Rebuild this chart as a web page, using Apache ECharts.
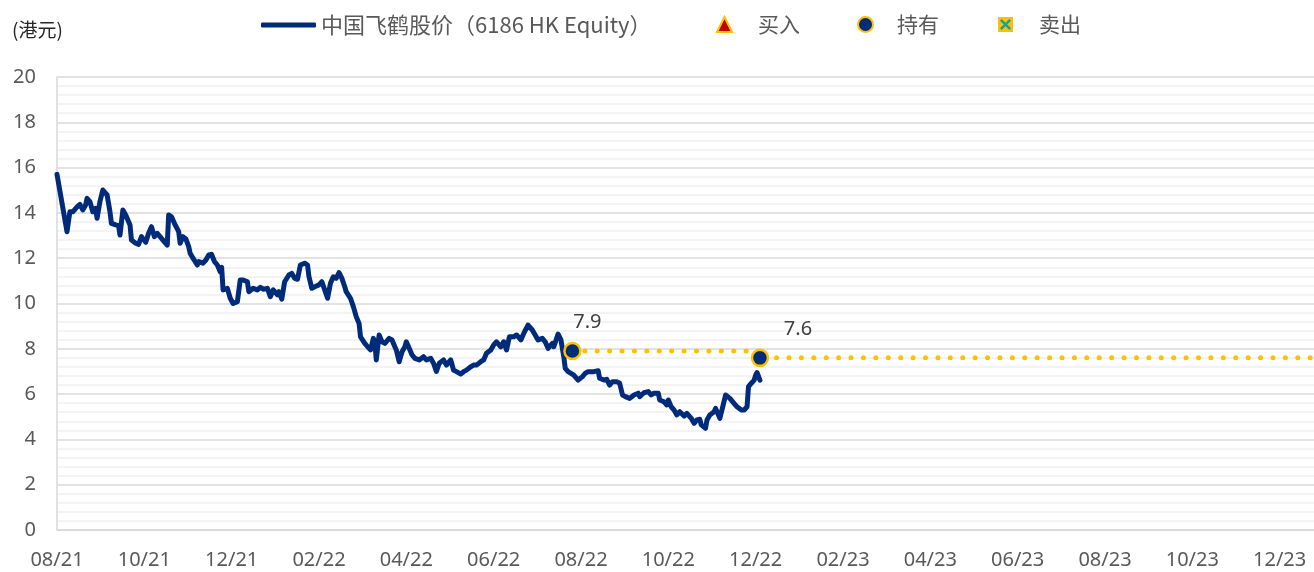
<!DOCTYPE html>
<html>
<head>
<meta charset="utf-8">
<script src="https://cdn.jsdelivr.net/npm/echarts@6/dist/echarts.min.js"></script>
<style>
  html, body { margin: 0; padding: 0; background: #fff; }
  #mainChart { width: 1314px; height: 572px; }
</style>
</head>
<body>
<div id="mainChart"></div>
<script>
// 数据：以 2021-08-01 为起点的天数偏移
var startDate = '2021-08-01';
var tickLabels = ['08/21', '10/21', '12/21', '02/22', '04/22', '06/22', '08/22', '10/22', '12/22', '02/23', '04/23', '06/23', '08/23', '10/23', '12/23'];
var tickStep = 61;   // 两个月
var axisEndDay = 878;

var priceName = '中国飞鹤股价（6186 HK Equity）';
var priceDays = [0, 7, 9, 11, 14, 16, 18, 20, 21, 23, 25, 27, 28, 30, 32, 35, 37, 38, 41, 43, 44, 46, 48, 51, 52, 55, 57, 59, 62, 64, 66, 68, 70, 72, 74, 77, 78, 80, 82, 85, 86, 88, 90, 92, 93, 95, 98, 99, 102, 104, 106, 108, 110, 112, 114, 115, 116, 117, 119, 121, 123, 126, 128, 130, 133, 134, 137, 140, 142, 144, 147, 149, 151, 154, 155, 157, 159, 162, 164, 166, 168, 170, 173, 175, 176, 178, 180, 183, 185, 187, 189, 191, 193, 195, 197, 199, 201, 202, 205, 207, 209, 211, 212, 215, 217, 219, 221, 222, 223, 225, 227, 229, 232, 234, 236, 237, 239, 241, 243, 244, 246, 248, 250, 253, 256, 258, 261, 263, 265, 267, 270, 272, 275, 276, 277, 279, 282, 284, 286, 289, 291, 293, 296, 298, 300, 303, 305, 307, 310, 312, 314, 316, 319, 321, 324, 326, 329, 332, 334, 336, 339, 341, 343, 346, 347, 350, 352, 353, 354, 355, 357, 361, 364, 367, 369, 371, 375, 378, 379, 382, 384, 386, 388, 391, 393, 395, 397, 400, 403, 406, 407, 410, 413, 415, 417, 420, 421, 424, 426, 427, 429, 431, 433, 435, 438, 440, 443, 445, 447, 449, 450, 453, 454, 456, 459, 460, 463, 465, 467, 470, 472, 475, 478, 480, 482, 483, 485, 487, 488, 489, 491];
var priceValues = [15.70, 13.17, 14.05, 14.05, 14.27, 14.38, 14.13, 14.35, 14.64, 14.50, 14.05, 14.20, 13.76, 14.50, 15.01, 14.79, 14.05, 13.54, 13.47, 13.44, 13.02, 14.13, 13.91, 13.47, 12.80, 12.66, 12.61, 12.95, 12.70, 13.10, 13.39, 12.95, 13.10, 12.95, 12.80, 12.58, 13.91, 13.83, 13.54, 13.17, 12.66, 12.95, 12.85, 12.51, 12.22, 12.00, 11.70, 11.85, 11.78, 11.92, 12.14, 12.17, 11.85, 11.70, 11.40, 11.60, 10.60, 10.52, 10.67, 10.23, 10.00, 10.08, 11.04, 11.04, 10.96, 10.52, 10.67, 10.60, 10.71, 10.63, 10.67, 10.30, 10.60, 10.38, 10.52, 10.19, 10.96, 11.26, 11.33, 11.11, 11.07, 11.70, 11.78, 11.70, 11.18, 10.67, 10.74, 10.82, 10.96, 10.60, 10.23, 10.89, 11.18, 11.11, 11.36, 11.11, 10.74, 10.52, 10.23, 9.86, 9.42, 9.12, 8.53, 8.24, 8.09, 7.95, 8.46, 8.31, 7.51, 8.61, 8.31, 8.24, 8.46, 8.39, 8.09, 7.95, 7.43, 7.87, 8.09, 8.31, 8.02, 7.73, 7.58, 7.51, 7.65, 7.51, 7.58, 7.36, 7.00, 7.36, 7.51, 7.28, 7.51, 7.58, 7.06, 6.99, 6.89, 6.99, 7.06, 7.21, 7.28, 7.28, 7.43, 7.51, 7.80, 7.95, 8.17, 8.31, 8.09, 8.31, 7.95, 8.53, 8.53, 8.61, 8.39, 8.68, 9.05, 8.83, 8.61, 8.39, 8.46, 8.31, 8.02, 8.24, 8.09, 8.65, 8.39, 8.02, 7.65, 7.14, 6.99, 6.84, 6.62, 6.77, 6.92, 6.99, 6.99, 7.03, 6.70, 6.62, 6.65, 6.40, 6.55, 6.55, 6.48, 5.96, 5.89, 5.81, 5.96, 6.04, 5.89, 6.06, 6.11, 5.96, 6.04, 6.04, 5.74, 5.66, 5.52, 5.74, 5.44, 5.30, 5.08, 5.22, 5.03, 5.15, 4.93, 4.71, 4.86, 4.89, 4.64, 4.49, 4.86, 5.08, 5.22, 5.37, 4.93, 5.44, 5.96, 5.81, 5.66, 5.44, 5.30, 5.30, 5.44, 6.33, 6.48, 6.62, 6.84, 6.95, 6.62];

// 持有信号
var holdDays = [360, 491];
var holdPrices = [7.9, 7.6];
var buyPoints = [];
var sellPoints = [];

function pairs(xs, ys) {
    var out = [];
    for (var i = 0; i < xs.length; i++) out.push([xs[i], ys[i]]);
    return out;
}

// 持有期虚线：每段从信号点延续到下一个信号（最后一段到轴末端）
function holdLine() {
    var out = [];
    for (var i = 0; i < holdDays.length; i++) {
        var endDay = i + 1 < holdDays.length ? holdDays[i + 1] : axisEndDay;
        out.push([holdDays[i], holdPrices[i]]);
        out.push([endDay, holdPrices[i]]);
    }
    return out;
}

var sellIcon = "image://data:image/svg+xml;utf8," + encodeURIComponent(
    "<svg xmlns='http://www.w3.org/2000/svg' width='16' height='16'>" +
    "<rect width='16' height='16' fill='#FFC000'/>" +
    "<path d='M3 3L13 13M13 3L3 13' stroke='#12A3A3' stroke-width='2.6'/></svg>");

var labelColor = '#595959';
var navy = '#002A7A';
var gold = '#FFC000';
var cjkFont = '"Noto Sans CJK SC", "Noto Sans", sans-serif';

var chart = echarts.init(document.getElementById('mainChart'));
chart.setOption({
    backgroundColor: '#fff',
    animation: false,
    title: {
        text: '(港元)', left: 7, top: 15,
        textStyle: { color: '#262626', fontSize: 19, fontWeight: 'normal', fontFamily: cjkFont }
    },
    legend: [
        {
            left: 256, top: 9, itemWidth: 55, itemHeight: 5, selectedMode: false,
            data: [{ name: priceName, icon: 'roundRect' }],
            textStyle: { color: labelColor, fontSize: 22, fontFamily: cjkFont }
        },
        {
            left: 711, top: 9, itemWidth: 15, itemHeight: 15, selectedMode: false,
            data: [{ name: '买入', icon: 'triangle', itemStyle: { color: '#C00000', borderColor: gold, borderWidth: 2, opacity: 1 } }],
            textStyle: { color: labelColor, fontSize: 21, fontFamily: cjkFont, padding: [0, 0, 0, 21] }
        },
        {
            left: 852, top: 9, itemWidth: 15, itemHeight: 15, selectedMode: false,
            data: [{ name: '持有', icon: 'circle', itemStyle: { color: navy, borderColor: gold, borderWidth: 2, opacity: 1 } }],
            textStyle: { color: labelColor, fontSize: 21, fontFamily: cjkFont, padding: [0, 0, 0, 19] }
        },
        {
            left: 993, top: 9, itemWidth: 15, itemHeight: 15, selectedMode: false,
            data: [{ name: '卖出', icon: sellIcon }],
            textStyle: { color: labelColor, fontSize: 21, fontFamily: cjkFont, padding: [0, 0, 0, 21] }
        }
    ],
    grid: { left: 57, right: 0, top: 77, bottom: 42, containLabel: false },
    xAxis: {
        type: 'value', min: 0, max: axisEndDay, interval: tickStep,
        axisLine: { show: true, lineStyle: { color: '#D9D9D9', width: 1.5 } },
        axisTick: { show: false },
        splitLine: { show: false },
        axisLabel: {
            color: labelColor, fontSize: 20, fontFamily: '"Noto Sans", sans-serif', margin: 20,
            showMaxLabel: false,
            formatter: function (v) {
                var k = v / tickStep;
                return k === Math.round(k) && tickLabels[k] ? tickLabels[k] : '';
            }
        }
    },
    yAxis: {
        type: 'value', min: 0, max: 20, interval: 2,
        axisLine: { show: true, lineStyle: { color: '#D9D9D9', width: 1.5 } },
        axisTick: { show: false },
        splitLine: { show: true, lineStyle: { color: '#D9D9D9', width: 1.5 } },
        minorTick: { show: false, splitNumber: 5 },
        minorSplitLine: { show: true, lineStyle: { color: '#F0F0F0', width: 1.5 } },
        axisLabel: { color: labelColor, fontSize: 20, fontFamily: '"Noto Sans", sans-serif', margin: 21 }
    },
    series: [
        {
            name: priceName, type: 'line', showSymbol: false, symbol: 'none', z: 3,
            lineStyle: { color: navy, width: 5, join: 'round', cap: 'round' },
            itemStyle: { color: navy },
            data: pairs(priceDays, priceValues)
        },
        {
            name: '持有虚线', type: 'line', showSymbol: false, symbol: 'none', z: 2, silent: true,
            lineStyle: { color: gold, width: 5, type: [0.01, 12.4], cap: 'round' },
            data: holdLine()
        },
        {
            name: '买入', type: 'scatter', symbol: 'triangle', symbolSize: 15, z: 5,
            itemStyle: { color: '#C00000', borderColor: gold, borderWidth: 2, opacity: 1 },
            data: buyPoints
        },
        {
            name: '持有', type: 'scatter', symbol: 'circle', symbolSize: 16, z: 5,
            itemStyle: { color: navy, borderColor: gold, borderWidth: 2.5, opacity: 1 },
            label: {
                show: true, position: 'top', color: '#404040', fontSize: 20,
                fontFamily: '"Noto Sans", sans-serif',
                formatter: function (p) { return p.value[1].toFixed(1); }
            },
            data: [
                { value: [holdDays[0], holdPrices[0]], label: { offset: [15, -5] } },
                { value: [holdDays[1], holdPrices[1]], label: { offset: [38, -4] } }
            ]
        },
        {
            name: '卖出', type: 'scatter', symbol: sellIcon, symbolSize: 15, z: 5,
            itemStyle: { opacity: 1 },
            data: sellPoints
        }
    ]
});
</script>
</body>
</html>
